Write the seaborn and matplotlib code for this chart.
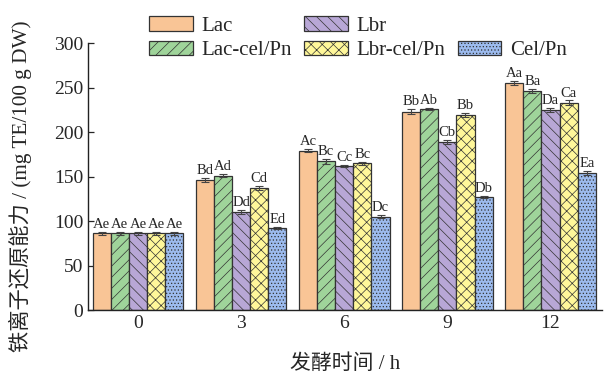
import matplotlib
matplotlib.use("Agg")
import matplotlib.pyplot as plt
from matplotlib.patches import Patch
import numpy as np
import pandas as pd
import seaborn as sns

# fermentation time groups
times = ["0", "3", "6", "9", "12"]
series = ["Lac", "Lac-cel/Pn", "Lbr", "Lbr-cel/Pn", "Cel/Pn"]

lac = [86, 146, 179, 223, 255]
lac_cel = [86, 151, 167, 226, 246]
lbr = [86, 110, 162, 189, 225]
lbr_cel = [86, 137, 165, 219, 233]
cel = [86, 92, 105, 127, 154]

lac_err = [1.5, 2.5, 1.5, 2.5, 2.0]
lac_cel_err = [1.5, 2.0, 2.5, 1.5, 2.5]
lbr_err = [1.5, 2.5, 1.5, 2.0, 2.0]
lbr_cel_err = [1.5, 2.5, 1.5, 2.5, 2.5]
cel_err = [1.5, 1.5, 1.5, 1.5, 2.5]

lac_lab = ["Ae", "Bd", "Ac", "Bb", "Aa"]
lac_cel_lab = ["Ae", "Ad", "Bc", "Ab", "Ba"]
lbr_lab = ["Ae", "Dd", "Cc", "Cb", "Da"]
lbr_cel_lab = ["Ae", "Cd", "Bc", "Bb", "Ca"]
cel_lab = ["Ae", "Ed", "Dc", "Db", "Ea"]

colors = ["#F9C596", "#9FD49A", "#B8A7D6", "#FFF79A", "#9CBBEE"]
hatches = ["", "///", "\\\\\\", "xxx", "....."]

values = [lac, lac_cel, lbr, lbr_cel, cel]
errs = [lac_err, lac_cel_err, lbr_err, lbr_cel_err, cel_err]
labels = [lac_lab, lac_cel_lab, lbr_lab, lbr_cel_lab, cel_lab]

rows = []
for s, v in zip(series, values):
    for t, y in zip(times, v):
        rows.append({"time": t, "series": s, "value": y})
df = pd.DataFrame(rows)

sns.set_style("ticks")
plt.rcParams["font.family"] = ["Liberation Serif", "Noto Sans CJK SC"]
plt.rcParams["hatch.linewidth"] = 0.5
plt.rcParams["xtick.direction"] = "in"
plt.rcParams["ytick.direction"] = "in"

fig = plt.figure(figsize=(6.09, 3.74), dpi=100)
ax = fig.add_axes([0.1445, 0.171, 0.844, 0.714])

sns.barplot(data=df, x="time", y="value", hue="series", order=times,
            hue_order=series, palette=colors, saturation=1, width=0.88,
            errorbar=None, edgecolor="#333333", linewidth=0.9, ax=ax,
            legend=False)

bar_conts = list(ax.containers)
for i, cont in enumerate(bar_conts):
    for j, bar in enumerate(cont.patches):
        bar.set_hatch(hatches[i])
        cx = bar.get_x() + bar.get_width() / 2
        top = bar.get_height()
        ax.errorbar(cx, top, yerr=errs[i][j], fmt="none", ecolor="#444444",
                    elinewidth=0.8, capsize=3, capthick=0.8)
        ax.text(cx, top + errs[i][j] + 1.0, labels[i][j], ha="center",
                va="bottom", fontsize=10.5)

# legend: Cel/Pn alone on the second row of the third column
handles = [Patch(facecolor=c, edgecolor="#333333", hatch=h, linewidth=0.9)
           for c, h in zip(colors, hatches)]
blank = Patch(facecolor="none", edgecolor="none")
leg_h = handles[:4] + [blank, handles[4]]
leg_l = series[:4] + ["", series[4]]
ax.legend(leg_h, leg_l, ncol=3, loc="upper left", bbox_to_anchor=(0.245, 0.957),
          bbox_transform=fig.transFigure, frameon=False, fontsize=15,
          handlelength=2.1, handleheight=0.7, columnspacing=0.6,
          handletextpad=0.4, labelspacing=0.25, borderpad=0, borderaxespad=0)

ax.set_ylim(0, 300)
ax.set_yticks(np.arange(0, 301, 50))
ax.set_xlim(-0.485, 4.5)
ax.set_xlabel("发酵时间 / h", fontsize=15)
ax.set_ylabel("铁离子还原能力 / (mg TE/100 g DW)", fontsize=15.3)
ax.xaxis.set_label_coords(0.5, -0.165)
ax.yaxis.set_label_coords(-0.109, 0.464)
ax.tick_params(labelsize=14, length=4, width=0.9)
sns.despine(ax=ax)
for sp in ["left", "bottom"]:
    ax.spines[sp].set_linewidth(1.0)
    ax.spines[sp].set_color("#222222")

fig.savefig("out.png", dpi=100)
